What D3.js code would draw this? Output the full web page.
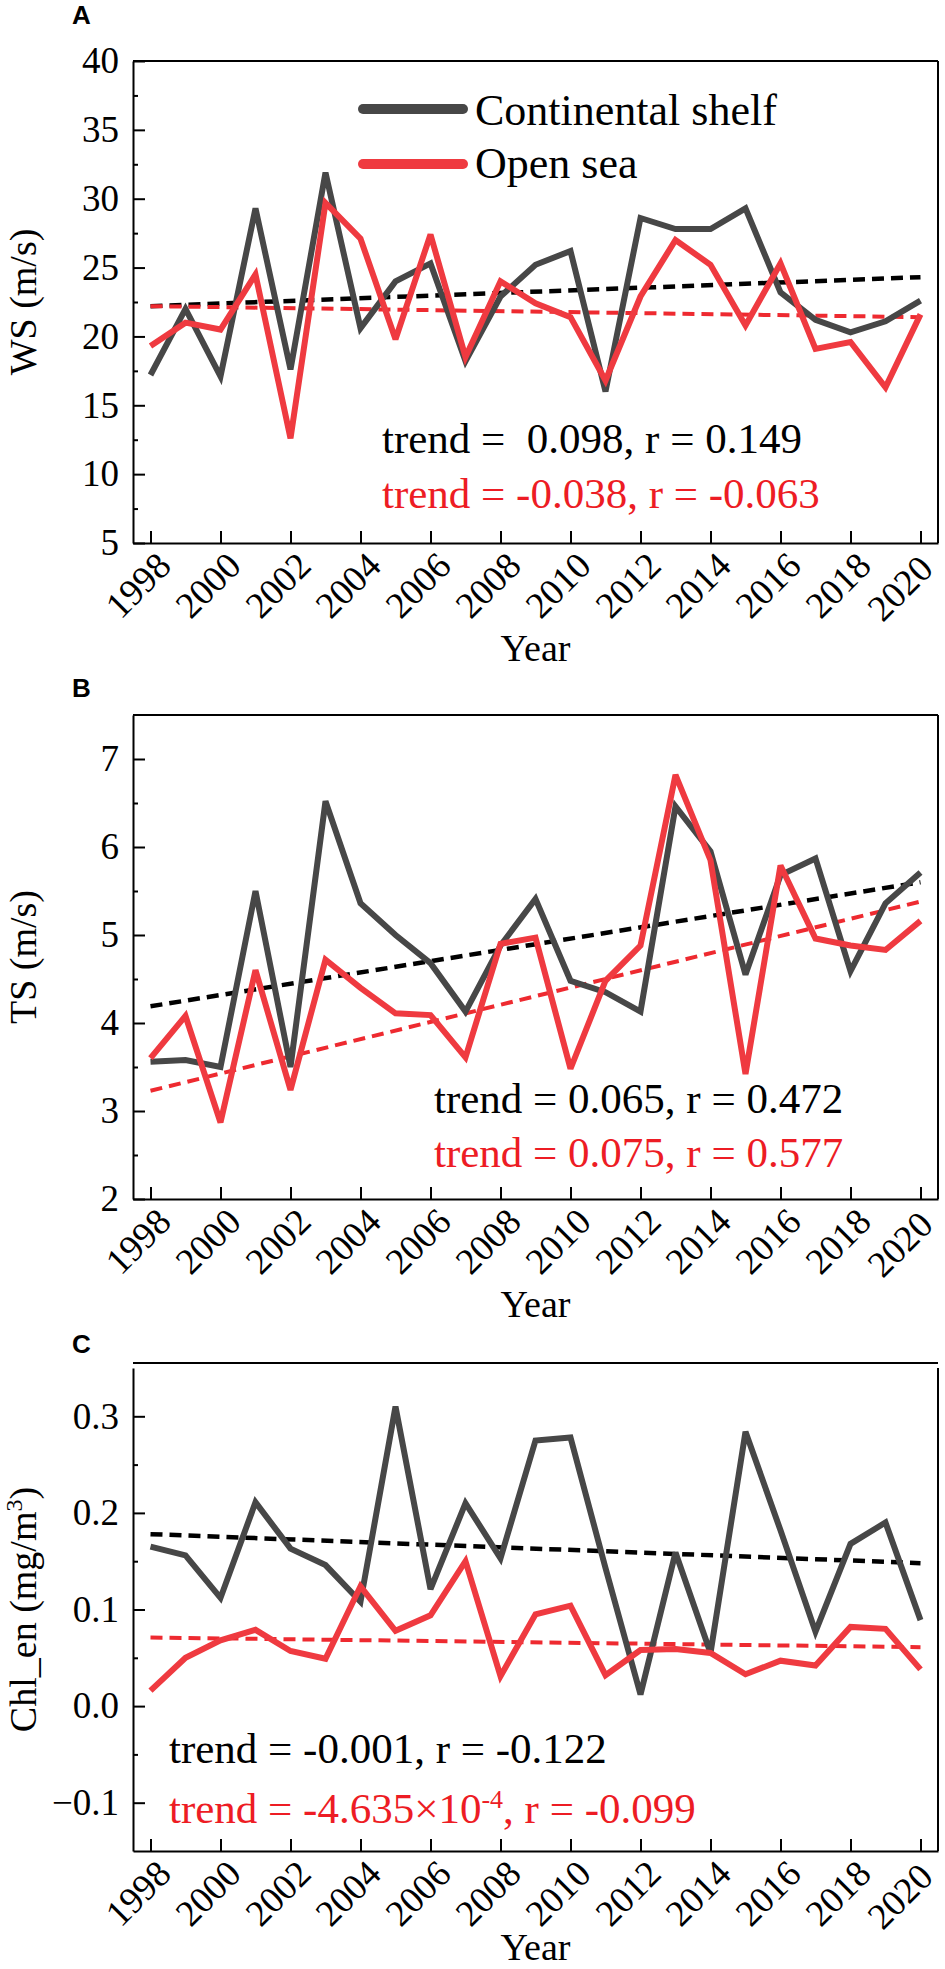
<!DOCTYPE html>
<html>
<head>
<meta charset="utf-8">
<script src="https://cdn.jsdelivr.net/npm/d3@7"></script>
<style>
body { margin: 0; background: #fff; }
text { font-family: "Liberation Serif", "Times New Roman", serif; }
</style>
</head>
<body>
<script>
// ---- data ----
var years = [1998, 1999, 2000, 2001, 2002, 2003, 2004, 2005, 2006, 2007, 2008, 2009,
             2010, 2011, 2012, 2013, 2014, 2015, 2016, 2017, 2018, 2019, 2020];
var yearTicks = [1998, 2000, 2002, 2004, 2006, 2008, 2010, 2012, 2014, 2016, 2018, 2020];

var wsShelf = [17.2, 22.0, 17.1, 29.3, 17.6, 31.9, 20.6, 24.0, 25.3, 18.2, 22.9, 25.2,
               26.2, 16.0, 28.6, 27.8, 27.8, 29.3, 23.2, 21.2, 20.3, 21.1, 22.6];
var wsOpen = [19.3, 21.0, 20.5, 24.5, 12.6, 29.7, 27.1, 19.8, 27.4, 18.5, 24.0, 22.4,
              21.4, 16.8, 22.9, 27.0, 25.2, 20.8, 25.3, 19.1, 19.6, 16.3, 21.6];

var tsShelf = [3.56, 3.58, 3.50, 5.50, 3.50, 6.52, 5.36, 5.00, 4.68, 4.13, 4.88, 5.41,
               4.48, 4.35, 4.13, 6.46, 5.95, 4.55, 5.68, 5.87, 4.59, 5.36, 5.71];
var tsOpen = [3.60, 4.08, 2.87, 4.60, 3.24, 4.72, 4.40, 4.11, 4.09, 3.61, 4.90, 4.97,
              3.48, 4.48, 4.88, 6.82, 5.85, 3.42, 5.79, 4.96, 4.88, 4.83, 5.16];

var chlShelf = [0.165, 0.156, 0.112, 0.211, 0.163, 0.146, 0.108, 0.310, 0.121, 0.210, 0.153, 0.275,
                0.278, 0.143, 0.012, 0.159, 0.055, 0.284, 0.182, 0.077, 0.168, 0.190, 0.089];
var chlOpen = [0.016, 0.050, 0.068, 0.079, 0.057, 0.049, 0.124, 0.078, 0.094, 0.150, 0.031, 0.095,
               0.104, 0.032, 0.058, 0.059, 0.055, 0.033, 0.047, 0.042, 0.082, 0.080, 0.038];

// fitted trend lines, end points at 1998 and 2020
var trendYears = [1998, 2020];
var wsTrendShelf = [22.2, 24.3];
var wsTrendOpen = [22.2, 21.4];
var tsTrendShelf = [4.19, 5.60];
var tsTrendOpen = [3.23, 5.38];
var chlTrendShelf = [0.178, 0.148];
var chlTrendOpen = [0.071, 0.061];

var wsTicks = [5, 10, 15, 20, 25, 30, 35, 40];
var wsMinor = [7.5, 12.5, 17.5, 22.5, 27.5, 32.5, 37.5];
var tsTicks = [2, 3, 4, 5, 6, 7];
var tsMinor = [2.5, 3.5, 4.5, 5.5, 6.5];
var chlTicks = [-0.1, 0.0, 0.1, 0.2, 0.3];
var chlMinor = [-0.05, 0.05, 0.15, 0.25];

var seriesNames = ['Continental shelf', 'Open sea'];
var wsStats = ['trend =  0.098, r = 0.149', 'trend = -0.038, r = -0.063'];
var tsStats = ['trend = 0.065, r = 0.472', 'trend = 0.075, r = 0.577'];

// ---- drawing ----
var GRAY = '#474747', RED = '#ef3a40', TXTRED = '#ed1c24';

var svg = d3.select('body').append('svg')
    .attr('width', 945)
    .attr('height', 1969);

var x = d3.scaleLinear().domain([1997.5, 2020.5]).range([133, 938]);

var panels = [
    {label: 'A', labelY: 24, top: 61, bottom: 543, boxTop: 61, domain: [5, 40],
     ticks: wsTicks, minor: wsMinor, fmt: d3.format('d'), yearY: 661,
     shelf: wsShelf, open: wsOpen, tShelf: wsTrendShelf, tOpen: wsTrendOpen,
     ylabel: ['WS (m/s)'], legend: true,
     stats: [{x: 382, y: 453}, {x: 382, y: 508}], statText: wsStats},
    {label: 'B', labelY: 697, top: 715, bottom: 1199, boxTop: 715, domain: [2, 7.5],
     ticks: tsTicks, minor: tsMinor, fmt: d3.format('d'), yearY: 1317,
     shelf: tsShelf, open: tsOpen, tShelf: tsTrendShelf, tOpen: tsTrendOpen,
     ylabel: ['TS (m/s)'], legend: false,
     stats: [{x: 434, y: 1113}, {x: 434, y: 1167}], statText: tsStats},
    {label: 'C', labelY: 1353, top: 1368, bottom: 1851, boxTop: 1363, domain: [-0.15, 0.35],
     ticks: chlTicks, minor: chlMinor, fmt: d3.format('.1f'), yearY: 1960,
     shelf: chlShelf, open: chlOpen, tShelf: chlTrendShelf, tOpen: chlTrendOpen,
     ylabel: ['Chl_en (mg/m', '3', ')'], legend: false,
     stats: [{x: 169, y: 1763}, {x: 169, y: 1823}], statText: null}
];

panels.forEach(function(p) {
    var y = d3.scaleLinear().domain(p.domain).range([p.bottom, p.top]);
    var g = svg.append('g').attr('class', 'panel-' + p.label);

    // panel letter
    g.append('text')
        .attr('x', 72)
        .attr('y', p.labelY)
        .style('font-family', '"Liberation Sans", Arial, sans-serif')
        .style('font-weight', 'bold')
        .style('font-size', '26px')
        .text(p.label);

    // trend lines
    var trendLine = d3.line()
        .x(function(d, i) { return x(trendYears[i]); })
        .y(function(d) { return y(d); });
    g.append('path')
        .datum(p.tShelf)
        .attr('d', trendLine)
        .attr('fill', 'none')
        .attr('stroke', '#000')
        .attr('stroke-width', 4.5)
        .attr('stroke-dasharray', '12,7');
    g.append('path')
        .datum(p.tOpen)
        .attr('d', trendLine)
        .attr('fill', 'none')
        .attr('stroke', '#ee2a30')
        .attr('stroke-width', 4)
        .attr('stroke-dasharray', '12,7');

    // data lines
    var line = d3.line()
        .x(function(d, i) { return x(years[i]); })
        .y(function(d) { return y(d); });
    [[p.shelf, GRAY], [p.open, RED]].forEach(function(s) {
        g.append('path')
            .datum(s[0])
            .attr('d', line)
            .attr('fill', 'none')
            .attr('stroke', s[1])
            .attr('stroke-width', 6)
            .attr('stroke-linejoin', 'miter')
            .attr('stroke-miterlimit', 3);
    });

    // frame: top and right
    g.append('line')
        .attr('x1', 133).attr('x2', 938)
        .attr('y1', p.boxTop).attr('y2', p.boxTop)
        .attr('stroke', '#000').attr('stroke-width', 2);
    g.append('line')
        .attr('x1', 938).attr('x2', 938)
        .attr('y1', p.top).attr('y2', p.bottom)
        .attr('stroke', '#000').attr('stroke-width', 2);

    // y axis
    var yAxis = g.append('g')
        .attr('transform', 'translate(133,0)')
        .call(d3.axisLeft(y).tickValues(p.ticks).tickFormat(p.fmt)
            .tickSize(-12).tickSizeOuter(0).tickPadding(14));
    var yMinor = g.append('g')
        .attr('transform', 'translate(133,0)')
        .call(d3.axisLeft(y).tickValues(p.minor).tickFormat('')
            .tickSize(-5).tickSizeOuter(0));
    yMinor.select('.domain').remove();

    // x axis
    var xAxis = g.append('g')
        .attr('transform', 'translate(0,' + p.bottom + ')')
        .call(d3.axisBottom(x).tickValues(yearTicks).tickFormat(d3.format('d'))
            .tickSize(-12).tickSizeOuter(0));
    xAxis.selectAll('text')
        .attr('x', 0).attr('y', 0).attr('dy', 0)
        .attr('text-anchor', 'end')
        .attr('transform', function(d) {
            // last label pulled in a little so it stays inside the page
            return d === 2020 ? 'translate(14,28) rotate(-45)' : 'translate(22,25) rotate(-45)';
        });

    [yAxis, yMinor, xAxis].forEach(function(a) {
        a.selectAll('path, line').attr('stroke', '#000').attr('stroke-width', 2);
        a.selectAll('text')
            .attr('fill', '#000')
            .style('font-family', '"Liberation Serif", "Times New Roman", serif')
            .style('font-size', '37px');
    });

    // axis titles
    g.append('text')
        .attr('x', 535.5)
        .attr('y', p.yearY)
        .attr('text-anchor', 'middle')
        .style('font-size', '38px')
        .text('Year');

    var yl = g.append('text')
        .attr('transform', 'translate(36,' + ((p.top + p.bottom) / 2) + ') rotate(-90)')
        .attr('text-anchor', 'middle')
        .style('font-size', '38px');
    yl.append('tspan').text(p.ylabel[0]);
    if (p.ylabel.length > 1) {
        yl.append('tspan').attr('dy', -14).style('font-size', '24px').text(p.ylabel[1]);
        yl.append('tspan').attr('dy', 14).text(p.ylabel[2]);
    }

    // trend statistics
    if (p.statText) {
        g.selectAll('text.stat')
            .data(p.statText)
            .enter()
            .append('text')
            .attr('class', 'stat')
            .attr('xml:space', 'preserve')
            .style('white-space', 'pre')
            .attr('x', function(d, i) { return p.stats[i].x; })
            .attr('y', function(d, i) { return p.stats[i].y; })
            .attr('fill', function(d, i) { return i === 0 ? '#000' : TXTRED; })
            .style('font-size', '43px')
            .text(function(d) { return d; });
    } else {
        g.append('text')
            .attr('x', p.stats[0].x).attr('y', p.stats[0].y)
            .style('font-size', '43px')
            .text('trend = -0.001, r = -0.122');
        var red = g.append('text')
            .attr('x', p.stats[1].x).attr('y', p.stats[1].y)
            .attr('fill', TXTRED)
            .style('font-size', '43px');
        red.append('tspan').text('trend = -4.635\u00d710');
        red.append('tspan').attr('dy', -15).style('font-size', '26px').text('-4');
        red.append('tspan').attr('dy', 15).text(', r = -0.099');
    }

    // legend
    if (p.legend) {
        var lg = g.append('g').attr('class', 'legend');
        lg.selectAll('line')
            .data(seriesNames)
            .enter()
            .append('line')
            .attr('x1', 363).attr('x2', 463)
            .attr('y1', function(d, i) { return 109 + i * 55; })
            .attr('y2', function(d, i) { return 109 + i * 55; })
            .attr('stroke', function(d, i) { return i === 0 ? GRAY : RED; })
            .attr('stroke-width', 10)
            .attr('stroke-linecap', 'round');
        lg.selectAll('text')
            .data(seriesNames)
            .enter()
            .append('text')
            .attr('x', 475)
            .attr('y', function(d, i) { return 125 + i * 53; })
            .style('font-size', '44px')
            .text(function(d) { return d; });
    }
});
</script>
</body>
</html>
